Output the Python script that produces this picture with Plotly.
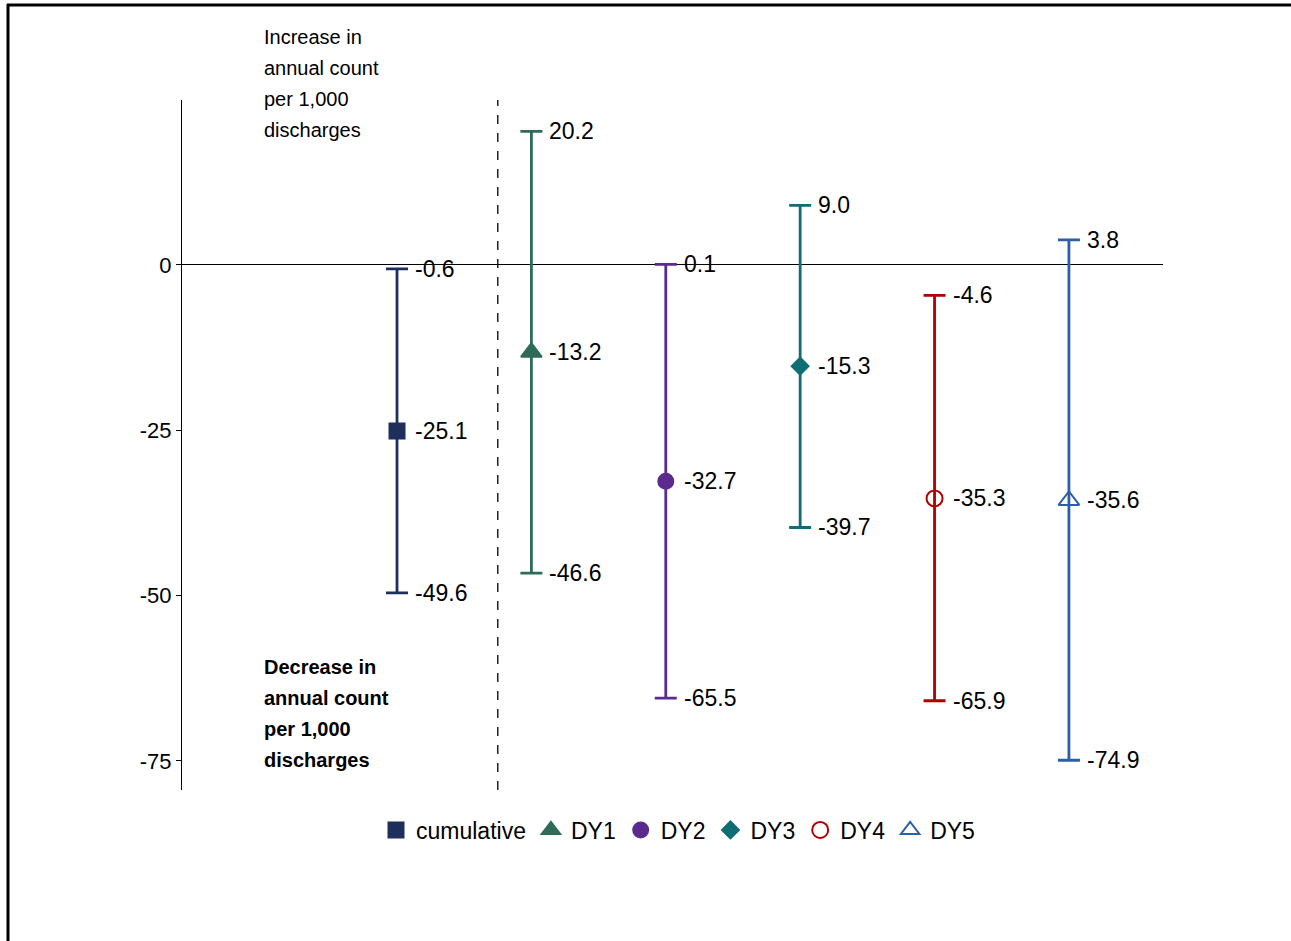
import plotly.graph_objects as go

categories = ["cumulative", "DY1", "DY2", "DY3", "DY4", "DY5"]
positions = [1, 2, 3, 4, 5, 6]
means = [-25.1, -13.2, -32.7, -15.3, -35.3, -35.6]
uppers = [-0.6, 20.2, 0.1, 9.0, -4.6, 3.8]
lowers = [-49.6, -46.6, -65.5, -39.7, -65.9, -74.9]
colors = ["#1E2F5C", "#2E6B58", "#5B2A8E", "#0F6E74", "#B00000", "#2C5FA6"]
symbols = ["square", "triangle-up", "circle", "diamond", "circle-open", "triangle-up-open"]
sizes = [15, 18, 15, 13, 16, 18]
y_ticks = [0, -25, -50, -75]
y_tick_labels = ["0", "-25", "-50", "-75"]

increase_lines = ["Increase in", "annual count", "per 1,000", "discharges"]
decrease_lines = ["Decrease in", "annual count", "per 1,000", "discharges"]

W, H = 1291, 941
L, R, T, B = 182, 1163, 100, 790
def px_x(p):
    return (p - L) / (R - L)
def px_y(p):
    return (B - p) / (B - T)

fig = go.Figure()
for i, cat in enumerate(categories):
    fig.add_trace(go.Scatter(
        x=[positions[i]], y=[means[i]], mode="markers", name=cat,
        marker=dict(symbol=symbols[i], size=sizes[i], color=colors[i],
                    line=dict(color=colors[i], width=2)),
        error_y=dict(type="data", symmetric=False,
                     array=[uppers[i] - means[i]],
                     arrayminus=[means[i] - lowers[i]],
                     color=colors[i], thickness=2.8, width=11),
    ))

annotations = []
for i in range(len(categories)):
    for v in (uppers[i], means[i], lowers[i]):
        annotations.append(dict(x=positions[i], y=v, xref="x", yref="y",
                                text=f"{v:.1f}", showarrow=False,
                                xanchor="left", yanchor="middle", xshift=16,
                                font=dict(size=23, color="black")))

for k, line in enumerate(increase_lines):
    annotations.append(dict(x=px_x(262), y=px_y(37 + 31 * k), xref="paper", yref="paper",
                            text=line, showarrow=False, xanchor="left", yanchor="middle",
                            font=dict(size=20, color="black")))
for k, line in enumerate(decrease_lines):
    annotations.append(dict(x=px_x(262), y=px_y(667 + 31 * k), xref="paper", yref="paper",
                            text=f"<b>{line}</b>", showarrow=False, xanchor="left", yanchor="middle",
                            font=dict(size=20, color="black")))

shapes = [
    dict(type="line", xref="x", yref="paper", x0=1.75, x1=1.75, y0=0, y1=1,
         line=dict(color="black", width=1.3, dash="dash")),
    dict(type="line", xref="paper", yref="paper", x0=px_x(7), x1=px_x(1300), y0=px_y(5), y1=px_y(5),
         line=dict(color="black", width=3)),
    dict(type="line", xref="paper", yref="paper", x0=px_x(8), x1=px_x(8), y0=px_y(4), y1=px_y(960),
         line=dict(color="black", width=3)),
]

fig.update_layout(
    width=W, height=H,
    margin=dict(l=L, r=W - R, t=T, b=H - B, autoexpand=False),
    paper_bgcolor="white", plot_bgcolor="white",
    font=dict(family="Arial, Liberation Sans, sans-serif", color="black"),
    xaxis=dict(range=[-0.6, 6.7], visible=False, showgrid=False, zeroline=False),
    yaxis=dict(range=[-79.4, 24.95], tickvals=y_ticks, ticktext=y_tick_labels,
               showline=True, linecolor="black", linewidth=1.3,
               ticks="outside", ticklen=5, tickcolor="black",
               showgrid=False, zeroline=True, zerolinecolor="black", zerolinewidth=1.3,
               tickfont=dict(size=22, color="black")),
    legend=dict(orientation="h", x=px_x(678), xanchor="center", y=px_y(830), yanchor="middle",
                font=dict(size=23, color="black"), itemwidth=30, tracegroupgap=0),
    showlegend=True,
    annotations=annotations,
    shapes=shapes,
)

fig.write_html("out.html", config={"displayModeBar": False},
               post_script="document.body.style.margin='0';document.body.style.padding='0';")
